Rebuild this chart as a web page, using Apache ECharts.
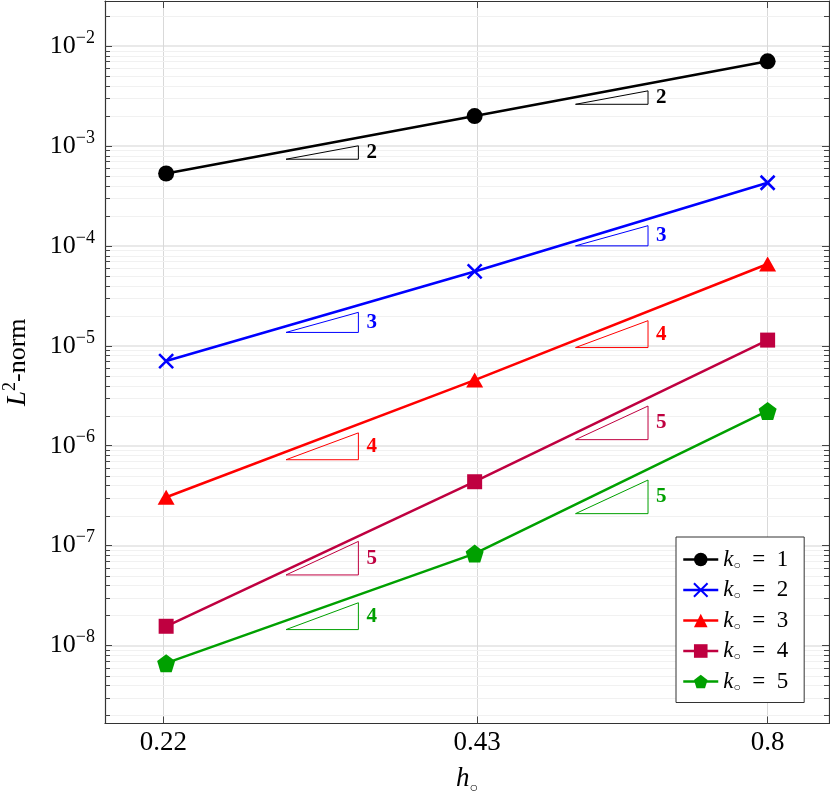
<!DOCTYPE html>
<html>
<head>
<meta charset="utf-8">
<script src="https://cdn.jsdelivr.net/npm/echarts@6/dist/echarts.min.js"></script>
<style>
  html, body { margin: 0; padding: 0; background: #fff; }
  #chart { width: 830px; height: 791px; }
</style>
</head>
<body>
<div id="chart"></div>
<script>
// mesh size h and L2 error per polynomial degree k
var hValues = [0.2213, 0.4278, 0.8];
var xTicks = [0.22, 0.43, 0.8];
var xTickLabels = ['0.22', '0.43', '0.8'];
var yTickExps = [-8, -7, -6, -5, -4, -3, -2];
var degrees = [1, 2, 3, 4, 5];
var errK1 = [5.30e-4, 1.99e-3, 7.03e-3];
var errK2 = [7.03e-6, 5.54e-5, 4.28e-4];
var errK3 = [3.05e-7, 4.54e-6, 6.58e-5];
var errK4 = [1.56e-8, 4.36e-7, 1.14e-5];
var errK5 = [6.67e-9, 8.32e-8, 2.23e-6];

// slope triangles: x span, base value, slope
var triLeftX = [0.2859, 0.3337];
var triRightX = [0.5307, 0.6196];
var triLeftBase = [7.36e-4, 1.36e-5, 7.24e-7, 5.09e-8, 1.445e-8];
var triRightBase = [2.61e-3, 1.0e-4, 9.6e-6, 1.15e-6, 2.09e-7];
var triLeftSlope = [2, 3, 4, 5, 4];
var triRightSlope = [2, 3, 4, 5, 5];

var X_MIN = 0.1942, X_MAX = 0.9121;
var Y_MIN = 1.66e-9, Y_MAX = 2.82e-2;

var colors = ['#000000', '#0000ff', '#ff0000', '#bf0040', '#00a000'];
var symbols = [
  'circle',
  'path://M0,0L10,10M10,0L0,10',
  'triangle',
  'rect',
  'path://M0,-1L0.951,-0.309L0.588,0.809L-0.588,0.809L-0.951,-0.309Z'
];
var symbolSizes = [16, 14, [17, 15], 15, 18];
var errors = [errK1, errK2, errK3, errK4, errK5];

var serif = '"Liberation Serif", "DejaVu Serif", serif';

var yTicks = yTickExps.map(function(e) { return Math.pow(10, e); });
var minorTicks = [];
for (var e = -9; e <= -2; e++) {
  for (var m = 2; m <= 9; m++) {
    var v = m * Math.pow(10, e);
    if (v > Y_MIN && v < Y_MAX) minorTicks.push([X_MIN, v]);
  }
}

var triData = [];
degrees.forEach(function(d, i) {
  triData.push([triLeftX[0], triLeftX[1], triLeftBase[i], triLeftSlope[i], i]);
  triData.push([triRightX[0], triRightX[1], triRightBase[i], triRightSlope[i], i]);
});

var chart = echarts.init(document.getElementById('chart'));

var series = degrees.map(function(d, i) {
  var isCross = i === 1;
  return {
    name: 'k' + d,
    type: 'line',
    data: hValues.map(function(h, j) { return [h, errors[i][j]]; }),
    symbol: symbols[i],
    symbolSize: symbolSizes[i],
    lineStyle: {color: colors[i], width: 2.5},
    itemStyle: isCross ?
      {color: colors[i], borderColor: colors[i], borderWidth: 2.5} :
      {color: colors[i], borderWidth: 0},
    z: 5
  };
});

series.push({
  type: 'custom',
  silent: true,
  z: 1,
  encode: {x: 0, y: 1},
  data: minorTicks,
  renderItem: function(params, api) {
    var p = api.coord([api.value(0), api.value(1)]);
    var cs = params.coordSys;
    var y = Math.round(p[1]) + 0.5;
    return {
      type: 'group',
      children: [
        {type: 'line', shape: {x1: cs.x, y1: y, x2: cs.x + cs.width, y2: y},
          style: {stroke: '#f1f1f1', lineWidth: 1}},
        {type: 'line', shape: {x1: cs.x, y1: y, x2: cs.x + 5, y2: y},
          style: {stroke: '#444', lineWidth: 1}},
        {type: 'line', shape: {x1: cs.x + cs.width - 5, y1: y, x2: cs.x + cs.width, y2: y},
          style: {stroke: '#444', lineWidth: 1}}
      ]
    };
  }
});

series.push({
  type: 'custom',
  silent: true,
  z: 4,
  encode: {x: 0, y: 2},
  data: triData,
  renderItem: function(params, api) {
    var x1 = api.value(0), x2 = api.value(1), y1 = api.value(2), s = api.value(3);
    var y2 = y1 * Math.pow(x2 / x1, s);
    var a = api.coord([x1, y1]), b = api.coord([x2, y1]), c = api.coord([x2, y2]);
    var col = colors[api.value(4)];
    return {
      type: 'group',
      children: [
        {type: 'polygon', shape: {points: [a, b, c]},
          style: {fill: 'none', stroke: col, lineWidth: 1}},
        {type: 'text', x: b[0] + 8, y: (b[1] + c[1]) / 2,
          style: {text: String(s), fill: col, font: 'bold 21px ' + serif,
            align: 'left', verticalAlign: 'middle'}}
      ]
    };
  }
});

var supRich = {
  b: {fontFamily: serif, fontSize: 26, lineHeight: 34, color: '#000'},
  sup: {fontFamily: serif, fontSize: 18, lineHeight: 18, verticalAlign: 'top', color: '#000'},
  i: {fontFamily: serif, fontSize: 27, lineHeight: 34, fontStyle: 'italic', color: '#000'},
  sub: {fontFamily: serif, fontSize: 14, lineHeight: 14, verticalAlign: 'bottom', color: '#000'}
};

var option = {
  animation: false,
  backgroundColor: '#fff',
  grid: {left: 105, top: 1, right: 1, bottom: 67.5, containLabel: false, outerBoundsMode: 'none'},
  legend: {
    data: degrees.map(function(d) { return 'k' + d; }),
    orient: 'vertical',
    left: 676, top: 537,
    itemWidth: 35, itemHeight: 17, itemGap: 7,
    padding: [11, 16, 9, 6],
    backgroundColor: '#fff',
    borderColor: '#333', borderWidth: 1,
    lineStyle: {width: 2.5},
    formatter: function(name) {
      return '{i|k}{sub|○}{n|  =  ' + name.slice(1) + '}';
    },
    textStyle: {
      rich: {
        i: {fontFamily: serif, fontSize: 23, lineHeight: 24, fontStyle: 'italic', color: '#000'},
        sub: {fontFamily: serif, fontSize: 12, lineHeight: 12, verticalAlign: 'bottom', color: '#000'},
        n: {fontFamily: serif, fontSize: 23, lineHeight: 24, color: '#000'}
      }
    }
  },
  xAxis: [{
    type: 'log', min: X_MIN, max: X_MAX, position: 'bottom',
    name: '{i|h}{sub|○}', nameLocation: 'middle', nameGap: 38,
    nameTextStyle: {rich: supRich},
    axisLine: {lineStyle: {color: '#333', width: 1.2}},
    axisTick: {inside: true, length: 7, customValues: xTicks, lineStyle: {color: '#444'}},
    axisLabel: {
      customValues: xTicks, margin: 6,
      fontFamily: serif, fontSize: 27, color: '#000',
      formatter: function(v) {
        var best = 0;
        xTicks.forEach(function(t, i) {
          if (Math.abs(t - v) < Math.abs(xTicks[best] - v)) best = i;
        });
        return xTickLabels[best];
      }
    },
    splitLine: {show: true, lineStyle: {color: '#d9d9d9', width: 1}}
  }, {
    type: 'log', min: X_MIN, max: X_MAX, position: 'top',
    axisLine: {lineStyle: {color: '#333', width: 1.2}},
    axisTick: {inside: true, length: 7, customValues: xTicks, lineStyle: {color: '#444'}},
    axisLabel: {show: false},
    splitLine: {show: false}
  }],
  yAxis: [{
    type: 'log', min: Y_MIN, max: Y_MAX, position: 'left',
    name: '{i|L}{sup|2}{b|-norm}', nameLocation: 'middle', nameGap: 70,
    nameRotate: 90,
    nameTextStyle: {rich: supRich},
    axisLine: {lineStyle: {color: '#333', width: 1.2}},
    axisTick: {inside: true, length: 7, customValues: yTicks, lineStyle: {color: '#444'}},
    axisLabel: {
      customValues: yTicks, margin: 10,
      formatter: function(v) {
        var e = Math.round(Math.log10(v));
        return '{b|10}{sup|−' + (-e) + '}';
      },
      rich: supRich
    },
    splitLine: {show: true, lineStyle: {color: '#e2e2e2', width: 1.5}}
  }, {
    type: 'log', min: Y_MIN, max: Y_MAX, position: 'right',
    axisLine: {lineStyle: {color: '#333', width: 1.2}},
    axisTick: {inside: true, length: 7, customValues: yTicks, lineStyle: {color: '#444'}},
    axisLabel: {show: false},
    splitLine: {show: false}
  }],
  series: series
};

chart.setOption(option);
</script>
</body>
</html>
